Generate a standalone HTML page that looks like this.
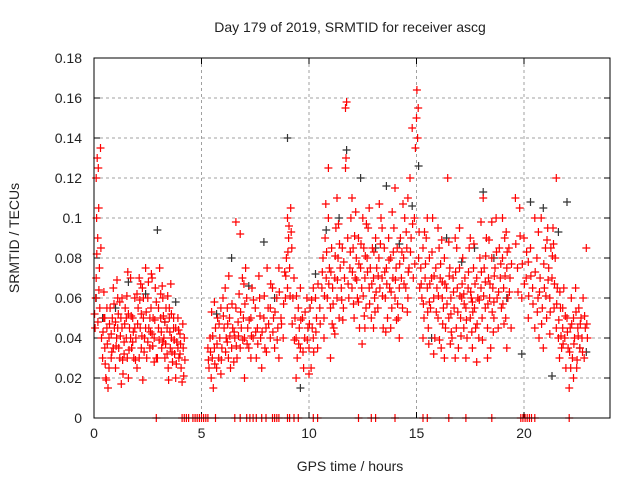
<!DOCTYPE html>
<html><head><meta charset="utf-8"><style>
body{margin:0;background:#fff;width:640px;height:480px;overflow:hidden}
svg{display:block;font-family:"Liberation Sans",sans-serif}
</style></head><body>
<svg id="chart" width="640" height="480" viewBox="0 0 640 480">
<text x="350" y="32" font-size="14" text-anchor="middle" fill="#222">Day 179 of 2019, SRMTID for receiver ascg</text>
<text x="350" y="471" font-size="14" text-anchor="middle" fill="#222">GPS time / hours</text>
<text transform="translate(19,238) rotate(-90)" font-size="14" text-anchor="middle" fill="#222">SRMTID / TECUs</text>
<g id="grid"></g>
<g id="axes"></g>
<g id="black-series"></g>
<g id="red-series"></g>
<rect x="94" y="58" width="516" height="360" fill="none" stroke="#000" stroke-width="1"/>
</svg>
<script>
const xTicks=[0,5,10,15,20];
const yTicks=[0,0.02,0.04,0.06,0.08,0.1,0.12,0.14,0.16,0.18];
const yTickLabels=["0","0.02","0.04","0.06","0.08","0.1","0.12","0.14","0.16","0.18"];
const redPts=[
[0.05,0.045],[0.08,0.06],[0.1,0.12],[0.12,0.1],[0.15,0.13],[0.17,0.09],[0.2,0.125],[0.22,0.105],[0.25,0.075],[0.27,0.055],[0.3,0.135],[0.32,0.085],[0.1,0.07],[0.18,0.048],[0.35,0.04],[0.4,0.03],[0.45,0.05],[0.5,0.035],[0.55,0.02],[0.6,0.045],[0.65,0.015],[0.7,0.04],[0.75,0.055],[0.8,0.03],[0.85,0.05],[0.9,0.065],[0.95,0.045],[1.0,0.025],[1.05,0.04],[1.1,0.06],[1.15,0.035],[1.2,0.03],[1.25,0.05],[1.3,0.045],[1.35,0.022],[1.4,0.038],[1.45,0.055],[1.5,0.04],[1.55,0.03],[1.6,0.02],[1.65,0.045],[1.7,0.07],[1.75,0.035],[1.8,0.05],[1.85,0.03],[1.9,0.06],[1.95,0.04],[2.0,0.025],[2.05,0.055],[2.1,0.07],[2.15,0.045],[2.2,0.035],[2.25,0.065],[2.3,0.05],[2.35,0.04],[2.4,0.075],[2.45,0.03],[2.5,0.06],[2.55,0.045],[2.6,0.035],[2.65,0.055],[2.7,0.07],[2.75,0.05],[2.8,0.04],[2.85,0.065],[2.9,0.058],[2.95,0.03],[3.0,0.045],[3.05,0.075],[3.1,0.05],[3.15,0.035],[3.2,0.06],[3.25,0.04],[3.3,0.03],[3.35,0.055],[3.4,0.045],[3.45,0.025],[3.5,0.05],[3.55,0.035],[3.6,0.04],[3.65,0.028],[3.7,0.045],[3.75,0.032],[3.8,0.02],[3.85,0.038],[3.9,0.05],[3.95,0.03],[4.0,0.042],[4.05,0.025],[4.1,0.018],[4.15,0.035],[4.2,0.04],[0.5,0.05],[0.7,0.025],[0.9,0.035],[1.1,0.045],[1.3,0.06],[1.5,0.05],[1.7,0.04],[1.9,0.045],[2.1,0.03],[2.3,0.06],[2.5,0.038],[2.7,0.042],[2.9,0.03],[3.1,0.062],[3.3,0.048],[3.5,0.055],[3.7,0.05],[3.9,0.035],[0.6,0.055],[0.8,0.042],[1.0,0.048],[1.2,0.058],[1.4,0.032],[1.6,0.052],[1.8,0.038],[2.0,0.062],[2.2,0.052],[2.4,0.045],[2.6,0.05],[2.8,0.028],[3.0,0.055],[3.2,0.038],[3.4,0.032],[3.6,0.052],[3.8,0.045],[4.0,0.032],
[5.3,0.035],[5.35,0.025],[5.4,0.04],[5.45,0.02],[5.5,0.03],[5.55,0.015],[5.6,0.035],[5.65,0.045],[5.7,0.025],[5.75,0.05],[5.8,0.03],[5.85,0.04],[5.9,0.055],[5.95,0.035],[6.0,0.06],[6.05,0.045],[6.1,0.065],[6.15,0.04],[6.2,0.055],[6.25,0.03],[6.3,0.05],[6.35,0.025],[6.4,0.035],[6.45,0.045],[6.5,0.028],[6.55,0.04],[6.6,0.055],[6.65,0.03],[6.7,0.048],[6.75,0.062],[6.8,0.035],[6.85,0.045],[6.9,0.07],[6.95,0.05],[7.0,0.04],[7.05,0.075],[7.1,0.06],[7.15,0.045],[7.2,0.035],[7.3,0.05],[7.35,0.065],[7.4,0.04],[7.5,0.055],[7.55,0.03],[7.6,0.045],[7.7,0.06],[7.75,0.04],[7.8,0.025],[7.9,0.05],[7.95,0.035],[8.0,0.045],[8.05,0.075],[8.1,0.055],[8.2,0.04],[8.3,0.065],[8.35,0.05],[8.4,0.035],[8.5,0.06],[8.55,0.045],[8.6,0.075],[8.7,0.05],[8.8,0.04],[8.9,0.06],[8.95,0.08],[9.0,0.1],[9.05,0.09],[9.1,0.075],[9.15,0.105],[9.2,0.085],[9.25,0.06],[9.3,0.07],[9.35,0.05],[9.4,0.04],[9.45,0.03],[9.5,0.055],[9.55,0.045],[9.6,0.035],[9.7,0.05],[9.75,0.025],[9.8,0.04],[9.9,0.06],[9.95,0.045],[10.0,0.035],[10.05,0.055],[10.1,0.025],[10.15,0.045],[10.2,0.04],[10.3,0.06],[10.35,0.05],[10.4,0.035],[10.5,0.055],[6.6,0.098],[6.8,0.092],[5.6,0.058],[6.2,0.038],[7.3,0.03],[8.2,0.055],[9.0,0.065],[9.6,0.065],[10.2,0.065],[5.9,0.022],[7.0,0.02],[8.6,0.03],[9.4,0.02],[10.0,0.022],
[10.6,0.065],[10.65,0.08],[10.7,0.05],[10.75,0.09],[10.8,0.07],[10.85,0.06],[10.9,0.1],[10.95,0.075],[11.0,0.055],[11.05,0.085],[11.1,0.065],[11.15,0.045],[11.2,0.07],[11.25,0.095],[11.3,0.06],[11.35,0.08],[11.4,0.05],[11.45,0.075],[11.5,0.065],[11.55,0.085],[11.6,0.055],[11.65,0.07],[11.7,0.155],[11.72,0.13],[11.75,0.158],[11.8,0.09],[11.85,0.06],[11.9,0.075],[11.95,0.1],[12.0,0.065],[12.05,0.085],[12.1,0.05],[12.15,0.07],[12.2,0.08],[12.25,0.06],[12.3,0.09],[12.35,0.045],[12.4,0.075],[12.45,0.065],[12.5,0.1],[12.55,0.085],[12.6,0.07],[12.65,0.055],[12.7,0.08],[12.75,0.095],[12.8,0.065],[12.85,0.075],[12.9,0.05],[12.95,0.085],[13.0,0.07],[13.05,0.06],[13.1,0.09],[13.15,0.075],[13.2,0.055],[13.25,0.08],[13.3,0.065],[13.35,0.1],[13.4,0.07],[13.45,0.045],[13.5,0.085],[13.55,0.06],[13.6,0.075],[13.65,0.05],[13.7,0.09],[13.75,0.065],[13.8,0.08],[13.85,0.055],[13.9,0.07],[13.95,0.095],[14.0,0.06],[14.05,0.075],[14.1,0.085],[14.15,0.05],[14.2,0.065],[14.25,0.09],[14.3,0.07],[14.35,0.055],[14.4,0.08],[14.45,0.1],[14.5,0.065],[14.55,0.085],[14.6,0.11],[14.65,0.075],[14.7,0.12],[14.75,0.09],[14.8,0.145],[14.85,0.07],[14.9,0.1],[14.95,0.135],[15.0,0.15],[15.02,0.164],[15.05,0.14],[15.08,0.155],[15.1,0.08],[15.15,0.065],[10.7,0.04],[11.0,0.03],[11.3,0.11],[11.7,0.125],[12.0,0.11],[12.3,0.058],[12.6,0.045],[13.0,0.045],[13.4,0.095],[13.8,0.045],[14.2,0.04],[14.6,0.06],[11.2,0.042],[12.8,0.105],[14.0,0.115],[10.9,0.125],
[15.2,0.075],[15.25,0.06],[15.3,0.085],[15.35,0.05],[15.4,0.07],[15.45,0.09],[15.5,0.065],[15.55,0.045],[15.6,0.08],[15.65,0.055],[15.7,0.07],[15.75,0.1],[15.8,0.06],[15.85,0.04],[15.9,0.075],[15.95,0.065],[16.0,0.05],[16.05,0.085],[16.1,0.07],[16.15,0.035],[16.2,0.06],[16.25,0.055],[16.3,0.08],[16.35,0.045],[16.4,0.065],[16.45,0.12],[16.5,0.05],[16.55,0.075],[16.6,0.06],[16.65,0.04],[16.7,0.07],[16.75,0.055],[16.8,0.09],[16.85,0.045],[16.9,0.065],[16.95,0.035],[17.0,0.075],[17.05,0.05],[17.1,0.06],[17.15,0.08],[17.2,0.045],[17.25,0.07],[17.3,0.055],[17.35,0.04],[17.4,0.065],[17.45,0.085],[17.5,0.05],[17.55,0.06],[17.6,0.035],[17.65,0.075],[17.7,0.055],[17.75,0.045],[17.8,0.07],[17.85,0.06],[17.9,0.04],[17.95,0.08],[18.0,0.065],[18.05,0.05],[18.1,0.11],[18.15,0.075],[18.2,0.055],[18.25,0.09],[18.3,0.045],[18.35,0.07],[18.4,0.06],[18.45,0.035],[18.5,0.08],[18.55,0.065],[18.6,0.05],[18.65,0.075],[18.7,0.1],[18.75,0.06],[18.8,0.045],[18.85,0.085],[18.9,0.07],[18.95,0.055],[19.0,0.08],[19.05,0.065],[19.1,0.09],[19.15,0.05],[19.2,0.075],[19.25,0.06],[19.3,0.085],[19.35,0.07],[19.4,0.045],[15.5,0.1],[16.0,0.095],[16.5,0.088],[17.0,0.095],[17.5,0.09],[18.0,0.098],[18.5,0.098],[19.0,0.1],[15.3,0.04],[16.3,0.03],[17.3,0.03],[18.3,0.03],[19.2,0.035],[15.8,0.032],[16.8,0.03],[17.8,0.028],[16.2,0.068],[17.2,0.062],[18.2,0.068],[15.6,0.058],[16.6,0.052],[17.6,0.058],[18.6,0.058],
[19.6,0.11],[19.7,0.075],[19.8,0.105],[19.9,0.06],[20.0,0.09],[20.1,0.07],[20.2,0.05],[20.3,0.085],[20.4,0.065],[20.5,0.045],[20.6,0.08],[20.65,0.06],[20.7,0.04],[20.75,0.07],[20.8,0.1],[20.85,0.055],[20.9,0.035],[20.95,0.065],[21.0,0.085],[21.05,0.05],[21.1,0.095],[21.15,0.075],[21.2,0.06],[21.25,0.085],[21.3,0.07],[21.35,0.095],[21.4,0.055],[21.45,0.08],[21.5,0.045],[21.55,0.065],[21.6,0.04],[21.65,0.03],[21.7,0.055],[21.75,0.035],[21.8,0.045],[21.85,0.065],[21.9,0.04],[21.95,0.025],[22.0,0.05],[22.05,0.035],[22.1,0.015],[22.15,0.045],[22.2,0.06],[22.25,0.03],[22.3,0.05],[22.35,0.04],[22.4,0.065],[22.45,0.025],[22.5,0.045],[22.55,0.055],[22.6,0.035],[22.65,0.05],[22.7,0.04],[22.75,0.06],[22.8,0.03],[22.85,0.045],[22.9,0.085],[22.95,0.04],[21.5,0.12],[20.5,0.1],[21.2,0.042],[20.2,0.078],[22.3,0.02],[21.8,0.055]
];
const redPts2=[
[0.03,0.052],[0.13,0.082],[0.23,0.064],[0.42,0.043],[0.52,0.027],[0.62,0.037],[0.72,0.047],[0.83,0.033],[0.93,0.057],[1.03,0.036],[1.13,0.052],[1.23,0.041],[1.33,0.029],[1.43,0.047],[1.53,0.061],[1.63,0.034],[1.73,0.051],[1.83,0.043],[1.93,0.029],[2.03,0.047],[2.13,0.059],[2.23,0.041],[2.33,0.033],[2.43,0.053],[2.53,0.068],[2.63,0.043],[2.73,0.036],[2.83,0.049],[3.03,0.039],[3.13,0.043],[3.23,0.051],[3.33,0.037],[3.43,0.061],[3.53,0.043],[3.63,0.033],[3.73,0.039],[3.83,0.027],[3.93,0.044],[4.03,0.037],[4.13,0.047],[4.23,0.029],[0.46,0.063],[1.07,0.069],[1.57,0.073],[2.17,0.067],[2.67,0.072],[3.17,0.066],[3.57,0.067],[0.57,0.019],[1.27,0.017],[2.27,0.019],[3.47,0.019],[4.17,0.021],
[5.32,0.029],[5.42,0.033],[5.52,0.041],[5.62,0.027],[5.72,0.037],[5.82,0.047],[5.92,0.029],[6.02,0.051],[6.12,0.033],[6.22,0.047],[6.32,0.041],[6.42,0.057],[6.52,0.043],[6.62,0.036],[6.72,0.041],[6.82,0.053],[6.92,0.039],[7.02,0.057],[7.12,0.037],[7.22,0.049],[7.32,0.041],[7.42,0.059],[7.52,0.043],[7.62,0.037],[7.72,0.051],[7.82,0.043],[7.92,0.061],[8.02,0.033],[8.12,0.047],[8.22,0.067],[8.32,0.043],[8.42,0.053],[8.52,0.039],[8.62,0.063],[8.72,0.047],[8.82,0.057],[8.92,0.071],[9.02,0.083],[9.12,0.061],[9.22,0.047],[9.32,0.039],[9.42,0.061],[9.52,0.037],[9.62,0.049],[9.72,0.033],[9.82,0.053],[9.92,0.039],[10.02,0.047],[10.12,0.059],[10.22,0.033],[10.32,0.043],[10.42,0.067],[10.52,0.047],[9.07,0.096],[9.17,0.093],[8.87,0.073],[7.67,0.071],[6.97,0.067],[6.27,0.071],[5.47,0.053],
[10.62,0.073],[10.72,0.061],[10.82,0.083],[10.92,0.067],[11.02,0.073],[11.12,0.057],[11.22,0.081],[11.32,0.069],[11.42,0.087],[11.52,0.059],[11.62,0.078],[11.82,0.067],[11.92,0.083],[12.02,0.073],[12.12,0.091],[12.22,0.069],[12.32,0.077],[12.42,0.087],[12.52,0.061],[12.62,0.081],[12.72,0.073],[12.82,0.057],[12.92,0.067],[13.02,0.083],[13.12,0.063],[13.22,0.071],[13.32,0.087],[13.42,0.061],[13.52,0.073],[13.62,0.067],[13.72,0.079],[13.82,0.063],[13.92,0.083],[14.02,0.069],[14.12,0.057],[14.22,0.077],[14.32,0.083],[14.42,0.067],[14.52,0.093],[14.62,0.073],[14.72,0.083],[14.82,0.097],[14.92,0.077],[15.12,0.093],[11.08,0.047],[11.57,0.049],[12.07,0.057],[12.57,0.051],[13.07,0.053],[13.57,0.043],[14.07,0.049],[14.57,0.053],[11.37,0.097],[12.17,0.103],[12.67,0.097],[13.27,0.107],[13.87,0.103],[14.37,0.107],[10.78,0.107],[12.47,0.037],
[15.22,0.067],[15.32,0.057],[15.42,0.077],[15.52,0.053],[15.62,0.067],[15.72,0.083],[15.82,0.071],[15.92,0.053],[16.02,0.061],[16.12,0.077],[16.22,0.047],[16.32,0.067],[16.42,0.057],[16.52,0.071],[16.62,0.043],[16.72,0.063],[16.82,0.073],[16.92,0.053],[17.02,0.061],[17.12,0.067],[17.22,0.057],[17.32,0.049],[17.42,0.073],[17.52,0.063],[17.62,0.053],[17.72,0.067],[17.82,0.047],[17.92,0.059],[18.02,0.073],[18.12,0.061],[18.22,0.081],[18.32,0.057],[18.42,0.067],[18.52,0.053],[18.62,0.071],[18.72,0.083],[18.82,0.063],[18.92,0.077],[19.02,0.057],[19.12,0.071],[19.22,0.083],[19.32,0.063],[19.42,0.077],[15.57,0.037],[16.07,0.039],[16.57,0.037],[17.07,0.041],[17.57,0.043],[18.07,0.039],[18.57,0.043],[19.07,0.047],[15.37,0.093],[16.17,0.089],[16.87,0.085],[17.67,0.087],[18.37,0.089],[19.17,0.093],
[19.62,0.087],[19.72,0.063],[19.82,0.091],[19.92,0.077],[20.02,0.067],[20.12,0.083],[20.22,0.061],[20.32,0.071],[20.42,0.057],[20.52,0.073],[20.62,0.053],[20.72,0.063],[20.82,0.047],[20.92,0.077],[21.02,0.061],[21.12,0.069],[21.22,0.053],[21.32,0.081],[21.42,0.067],[21.52,0.057],[21.62,0.049],[21.72,0.041],[21.82,0.037],[21.92,0.051],[22.02,0.043],[22.12,0.033],[22.22,0.047],[22.32,0.037],[22.42,0.053],[22.52,0.041],[22.62,0.047],[22.72,0.033],[22.82,0.051],[22.92,0.047],[21.07,0.089],[21.37,0.087],[20.67,0.093],[22.17,0.025],[22.47,0.029],[21.67,0.063]
];
const blackPts=[
[0.1,0.06],[0.4,0.05],[1.0,0.055],[1.6,0.068],[2.4,0.062],[2.95,0.094],[3.3,0.048],[3.8,0.058],[5.7,0.052],[6.4,0.08],[7.2,0.066],[7.9,0.088],[8.4,0.06],[9.0,0.14],[9.6,0.015],[10.3,0.072],[10.8,0.094],[11.4,0.1],[11.75,0.134],[12.4,0.12],[13.1,0.085],[13.6,0.116],[14.2,0.087],[14.8,0.106],[15.1,0.126],[15.7,0.04],[16.4,0.09],[17.1,0.078],[17.7,0.085],[18.1,0.113],[18.6,0.08],[19.2,0.06],[19.9,0.032],[20.3,0.108],[20.9,0.105],[21.3,0.021],[21.6,0.093],[22.0,0.108],[22.6,0.035],[22.9,0.033]
];
const zeroTimes=[2.9,4.1,4.2,4.3,4.4,4.6,4.7,4.8,4.9,5.0,5.1,5.2,5.3,5.65,6.55,6.8,7.1,7.25,7.4,7.55,7.8,8.0,8.3,8.4,8.5,8.6,9.0,9.1,9.3,9.5,10.2,10.4,12.3,12.9,13.1,14.0,15.3,15.5,16.5,17.3,18.5,19.85,19.95,20.05,20.15,20.25,20.35,20.5,22.1];

const L=94,R=610,T=58,B=418;
const xS=v=>L+v/24*(R-L);
const yS=v=>B-v/0.18*(B-T);
const NS="http://www.w3.org/2000/svg";
function mk(tag,attrs,parent){const e=document.createElementNS(NS,tag);for(const k in attrs)e.setAttribute(k,attrs[k]);parent.appendChild(e);return e;}
const grid=document.getElementById('grid'),axes=document.getElementById('axes');
xTicks.forEach(t=>{const x=xS(t);
 if(t>0){const g=mk('line',{x1:x,x2:x,y1:T,y2:B,stroke:'#a0a0a0','stroke-dasharray':'3,3'},grid);
 
 }
 const tk=mk('path',{d:`M${x},${B}v-6M${x},${T}v6`,stroke:'#000'},axes);
 
 
 const lb=mk('text',{x:x,y:B+20,'font-size':14,'text-anchor':'middle',fill:'#222'},axes);
 lb.textContent=t;
 
 
});
yTicks.forEach((v,i)=>{const y=yS(v);
 if(i>0&&i<yTicks.length-1){const g=mk('line',{x1:L,x2:R,y1:y,y2:y,stroke:'#a0a0a0','stroke-dasharray':'3,3'},grid);
 
 }
 const tk=mk('path',{d:`M${L},${y}h6M${R},${y}h-6`,stroke:'#000'},axes);
 
 
 const lb=mk('text',{x:L-12,y:y+5,'font-size':14,'text-anchor':'end',fill:'#222'},axes);
 lb.textContent=yTickLabels[i];
 
 
});
function drawPts(pts,parent,color,name){
 let d='';
 pts.forEach(p=>{const x=xS(p[0]),y=yS(p[1]);d+=`M${(x-4).toFixed(1)},${y.toFixed(1)}h8M${x.toFixed(1)},${(y-4).toFixed(1)}v8`;});
 const e=mk('path',{d:d,stroke:color,'stroke-width':1.2,fill:'none'},parent);
 
 
}
drawPts(blackPts,document.getElementById('black-series'),'#333','black-points');
drawPts(redPts.concat(redPts2),document.getElementById('red-series'),'#f00','red-points');
drawPts(zeroTimes.map(t=>[t,0]),document.getElementById('red-series'),'#f00','zero-points');
</script>
</body></html>
